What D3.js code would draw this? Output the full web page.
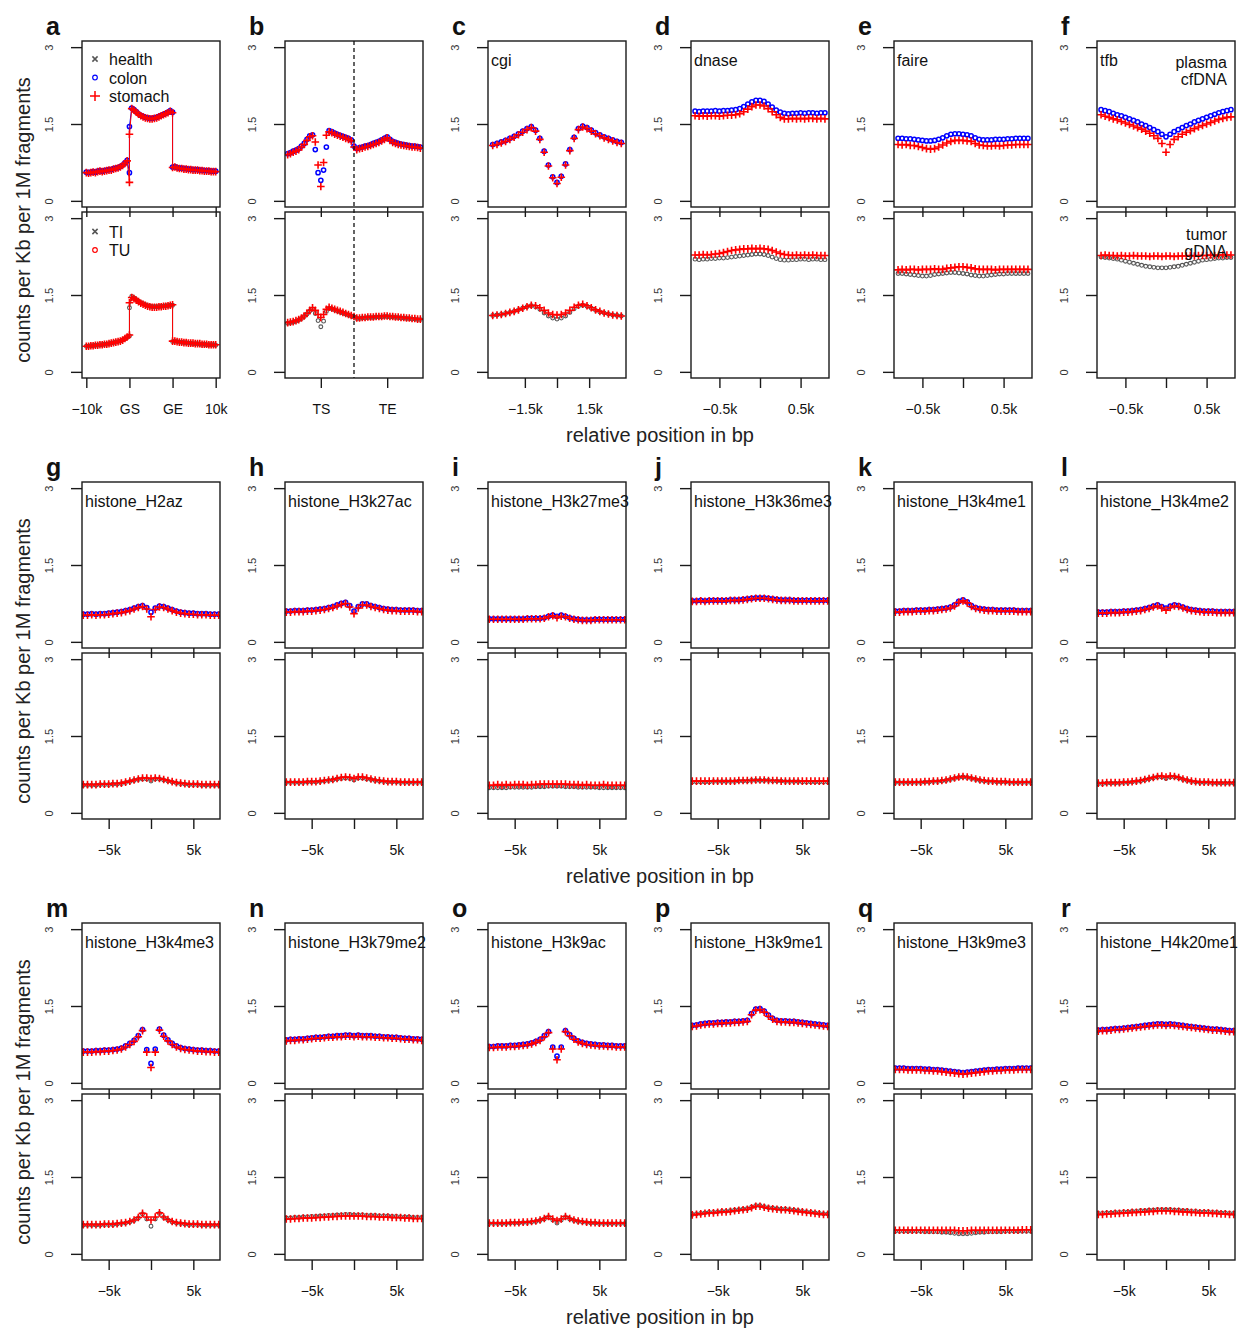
<!DOCTYPE html>
<html>
<head>
<meta charset="utf-8">
<script src="https://d3js.org/d3.v7.min.js"></script>
<style>
body { margin: 0; background: #fff; }
svg text { font-family: "Liberation Sans", Arial, Helvetica, sans-serif; fill: #111; }
</style>
</head>
<body>
<div id="chart"></div>
<script>
// Bin positions (x) for each kind of panel
var posA = d3.range(60).map(function (i) { return Math.floor(i / 20) + (i % 20) / 19; }); // -10k..GS, GS..GE, GE..10k
var posB = d3.range(49).map(function (i) { return i / 12; });                             // TS side | TE side
var posC = d3.range(-3000, 3001, 200);
var posD = d3.range(-800, 801, 50);
var posH = d3.range(-8000, 8001, 500);

// Tick values / labels
var tickA = [0, 1, 2, 3],           labA = ["\u221210k", "GS", "GE", "10k"];
var tickB = [1, 3],                 labB = ["TS", "TE"];
var tickC = [-1500, 0, 1500],       labC = ["\u22121.5k", "", "1.5k"];
var tickD = [-500, 0, 500],         labD = ["\u22120.5k", "", "0.5k"];
var tickH = [-5000, 0, 5000],       labH = ["\u22125k", "", "5k"];
var yTicks = [0, 1.5, 3];

var panelIds = ["a","b","c","d","e","f","g","h","i","j","k","l","m","n","o","p","q","r"];
var panelTitles = ["", "", "cgi", "dnase", "faire", "tfb", "histone_H2az", "histone_H3k27ac", "histone_H3k27me3",
  "histone_H3k36me3", "histone_H3k4me1", "histone_H3k4me2", "histone_H3k4me3", "histone_H3k79me2",
  "histone_H3k9ac", "histone_H3k9me1", "histone_H3k9me3", "histone_H4k20me1"];

// ---- values: top = plasma cfDNA (colon blue, stomach red), bottom = tumor gDNA (TI gray, TU red)
var aColon = [0.56,0.55,0.56,0.57,0.56,0.58,0.59,0.58,0.59,0.6,0.61,0.61,0.63,0.64,0.65,0.67,0.7,0.74,0.79,0.55,
  1.45,1.81,1.78,1.74,1.7,1.67,1.65,1.63,1.62,1.61,1.61,1.62,1.63,1.65,1.67,1.69,1.71,1.73,1.76,1.73,
  0.66,0.67,0.65,0.64,0.64,0.63,0.63,0.62,0.62,0.61,0.61,0.61,0.6,0.6,0.59,0.59,0.59,0.58,0.58,0.58];
var aStomach = [0.55,0.54,0.55,0.56,0.55,0.57,0.58,0.57,0.58,0.59,0.6,0.6,0.62,0.63,0.64,0.66,0.69,0.73,0.78,0.36,
  1.3,1.8,1.77,1.73,1.69,1.66,1.64,1.62,1.61,1.6,1.6,1.61,1.62,1.64,1.66,1.68,1.7,1.72,1.75,1.72,
  0.65,0.66,0.64,0.63,0.63,0.62,0.62,0.61,0.61,0.6,0.6,0.6,0.59,0.59,0.58,0.58,0.58,0.57,0.57,0.57];
var aTI = [0.5,0.5,0.51,0.51,0.52,0.52,0.53,0.53,0.54,0.54,0.55,0.56,0.57,0.58,0.59,0.6,0.62,0.64,0.67,0.7,
  1.25,1.47,1.44,1.41,1.38,1.35,1.33,1.31,1.29,1.28,1.27,1.27,1.27,1.27,1.28,1.28,1.29,1.29,1.3,1.3,
  0.59,0.6,0.59,0.58,0.58,0.57,0.57,0.56,0.56,0.55,0.55,0.55,0.54,0.54,0.54,0.53,0.53,0.53,0.53,0.52];
var aTU = [0.5,0.5,0.51,0.51,0.52,0.52,0.53,0.53,0.54,0.54,0.55,0.56,0.57,0.58,0.59,0.6,0.62,0.65,0.68,0.72,
  1.35,1.45,1.43,1.4,1.37,1.34,1.32,1.3,1.28,1.27,1.26,1.26,1.26,1.27,1.27,1.28,1.28,1.29,1.3,1.31,
  0.6,0.6,0.59,0.58,0.58,0.57,0.57,0.56,0.56,0.56,0.55,0.55,0.55,0.54,0.54,0.54,0.53,0.53,0.53,0.53];

var bColon = [0.92,0.94,0.97,0.99,1.02,1.07,1.12,1.2,1.27,1.29,1.0,0.55,0.4,0.6,1.05,1.37,1.35,1.32,1.3,1.28,
  1.26,1.24,1.22,1.19,1.07,1.02,1.04,1.05,1.07,1.08,1.1,1.12,1.14,1.16,1.19,1.22,1.25,1.2,1.16,1.14,
  1.12,1.11,1.1,1.09,1.08,1.07,1.07,1.06,1.05];
var bStomach = [0.9,0.92,0.95,0.97,1.0,1.05,1.1,1.18,1.25,1.27,1.15,0.7,0.28,0.75,1.28,1.35,1.33,1.3,1.28,1.26,
  1.24,1.22,1.2,1.17,1.05,1.0,1.02,1.03,1.05,1.06,1.08,1.1,1.12,1.14,1.17,1.2,1.23,1.18,1.14,1.12,
  1.1,1.09,1.08,1.07,1.06,1.05,1.05,1.04,1.03];
var bTI = [0.95,0.96,0.97,0.99,1.01,1.04,1.08,1.13,1.19,1.23,1.14,1.0,0.88,0.99,1.18,1.24,1.23,1.21,1.19,1.17,
  1.15,1.13,1.11,1.09,1.07,1.04,1.04,1.05,1.05,1.06,1.06,1.06,1.07,1.07,1.07,1.08,1.08,1.07,1.07,1.06,
  1.06,1.05,1.05,1.04,1.04,1.03,1.03,1.02,1.02];
var bTU = [0.96,0.97,0.98,1.0,1.02,1.05,1.09,1.14,1.2,1.25,1.2,1.12,1.06,1.12,1.22,1.26,1.24,1.22,1.2,1.18,
  1.16,1.14,1.12,1.1,1.08,1.05,1.05,1.06,1.06,1.07,1.07,1.07,1.08,1.08,1.08,1.09,1.09,1.08,1.08,1.07,
  1.07,1.06,1.06,1.05,1.05,1.04,1.04,1.03,1.03];

var cColon = [1.1,1.12,1.15,1.18,1.22,1.26,1.31,1.36,1.41,1.45,1.38,1.22,0.97,0.7,0.47,0.36,0.48,0.72,1.0,1.24,1.41,1.46,1.43,1.38,1.33,1.29,1.25,1.22,1.19,1.16,1.14];
var cStomach = [1.08,1.1,1.13,1.16,1.2,1.24,1.29,1.34,1.39,1.43,1.36,1.2,0.95,0.68,0.45,0.34,0.46,0.7,0.98,1.22,1.39,1.44,1.41,1.36,1.31,1.27,1.23,1.2,1.17,1.14,1.12];
var cTI = [1.1,1.11,1.12,1.14,1.16,1.18,1.21,1.24,1.27,1.29,1.27,1.22,1.15,1.09,1.05,1.03,1.05,1.09,1.16,1.23,1.28,1.3,1.28,1.24,1.2,1.17,1.15,1.13,1.11,1.1,1.09];
var cTU = [1.1,1.11,1.12,1.14,1.16,1.18,1.21,1.24,1.27,1.3,1.29,1.25,1.2,1.15,1.12,1.11,1.12,1.15,1.2,1.26,1.3,1.32,1.29,1.25,1.21,1.18,1.15,1.13,1.11,1.1,1.09];

var dColon = [1.75,1.74,1.75,1.75,1.75,1.76,1.75,1.76,1.76,1.77,1.78,1.8,1.84,1.89,1.93,1.96,1.96,1.94,1.89,1.83,1.77,1.73,1.71,1.7,1.71,1.71,1.72,1.71,1.72,1.72,1.71,1.72,1.72];
var dStomach = [1.66,1.65,1.66,1.65,1.66,1.66,1.65,1.66,1.67,1.67,1.68,1.7,1.74,1.79,1.84,1.87,1.87,1.85,1.8,1.74,1.68,1.63,1.6,1.6,1.61,1.6,1.61,1.6,1.61,1.61,1.6,1.61,1.6];
var dTI = [2.2,2.19,2.2,2.2,2.21,2.21,2.22,2.22,2.23,2.24,2.25,2.26,2.27,2.28,2.29,2.3,2.3,2.29,2.27,2.24,2.21,2.19,2.18,2.18,2.19,2.19,2.2,2.2,2.19,2.2,2.2,2.19,2.19];
var dTU = [2.28,2.28,2.29,2.28,2.29,2.3,2.31,2.33,2.35,2.37,2.38,2.39,2.4,2.4,2.41,2.4,2.41,2.4,2.39,2.37,2.34,2.31,2.29,2.28,2.27,2.28,2.27,2.28,2.27,2.28,2.27,2.27,2.27];

var eColon = [1.22,1.22,1.21,1.21,1.2,1.19,1.18,1.17,1.17,1.18,1.2,1.23,1.27,1.3,1.31,1.31,1.3,1.29,1.27,1.23,1.2,1.19,1.19,1.19,1.2,1.2,1.2,1.21,1.21,1.22,1.22,1.22,1.22];
var eStomach = [1.1,1.09,1.1,1.08,1.08,1.06,1.04,1.02,1.01,1.02,1.05,1.09,1.13,1.16,1.18,1.18,1.18,1.17,1.16,1.12,1.09,1.08,1.07,1.07,1.08,1.07,1.08,1.09,1.09,1.1,1.1,1.1,1.1];
var eTI = [1.92,1.92,1.91,1.9,1.89,1.88,1.87,1.87,1.88,1.9,1.91,1.92,1.93,1.94,1.94,1.93,1.92,1.91,1.89,1.88,1.87,1.87,1.88,1.89,1.9,1.91,1.91,1.92,1.92,1.92,1.92,1.92,1.92];
var eTU = [1.99,2.0,1.99,2.0,2.0,1.99,2.0,2.0,2.0,2.01,2.0,2.0,2.02,2.03,2.04,2.05,2.05,2.04,2.03,2.01,2.0,2.0,2.0,2.0,1.99,2.0,2.0,2.0,2.0,2.0,2.0,2.0,2.0];

var fColon = [1.78,1.76,1.74,1.71,1.68,1.66,1.63,1.6,1.57,1.54,1.5,1.47,1.43,1.39,1.35,1.3,1.25,1.3,1.35,1.39,1.43,1.47,1.5,1.54,1.57,1.6,1.63,1.66,1.69,1.72,1.74,1.76,1.78];
var fStomach = [1.68,1.65,1.63,1.6,1.58,1.55,1.52,1.49,1.46,1.43,1.4,1.36,1.32,1.27,1.22,1.12,0.95,1.1,1.2,1.25,1.3,1.34,1.37,1.41,1.44,1.47,1.5,1.53,1.56,1.59,1.61,1.63,1.64];
var fTI = [2.24,2.23,2.22,2.21,2.2,2.18,2.16,2.14,2.12,2.1,2.08,2.06,2.05,2.04,2.03,2.03,2.03,2.04,2.05,2.06,2.08,2.1,2.12,2.14,2.16,2.18,2.19,2.2,2.21,2.22,2.22,2.23,2.23];
var fTU = [2.27,2.28,2.27,2.27,2.26,2.27,2.26,2.26,2.27,2.26,2.26,2.26,2.25,2.26,2.26,2.25,2.26,2.26,2.25,2.26,2.26,2.26,2.27,2.26,2.27,2.27,2.27,2.28,2.27,2.28,2.28,2.28,2.28];

var gColon = [0.54,0.54,0.55,0.54,0.55,0.55,0.56,0.57,0.58,0.59,0.61,0.63,0.66,0.69,0.71,0.67,0.58,0.66,0.7,0.69,0.66,0.63,0.6,0.58,0.57,0.56,0.56,0.55,0.55,0.55,0.54,0.54,0.54];
var gStomach = [0.52,0.52,0.53,0.52,0.53,0.53,0.54,0.55,0.56,0.57,0.59,0.61,0.64,0.67,0.69,0.64,0.49,0.63,0.68,0.67,0.64,0.61,0.58,0.56,0.55,0.54,0.54,0.53,0.53,0.53,0.52,0.52,0.52];
var gTI = [0.54,0.54,0.54,0.54,0.55,0.55,0.55,0.56,0.56,0.57,0.59,0.61,0.63,0.65,0.66,0.66,0.62,0.66,0.66,0.64,0.62,0.6,0.58,0.57,0.56,0.55,0.55,0.55,0.54,0.54,0.54,0.54,0.54];
var gTU = [0.55,0.55,0.55,0.55,0.56,0.56,0.56,0.57,0.57,0.58,0.6,0.62,0.64,0.66,0.68,0.68,0.67,0.68,0.67,0.65,0.63,0.61,0.59,0.58,0.57,0.56,0.56,0.56,0.55,0.55,0.55,0.55,0.55];

var hColon = [0.6,0.6,0.61,0.61,0.61,0.62,0.62,0.63,0.64,0.65,0.67,0.69,0.72,0.75,0.77,0.71,0.6,0.69,0.74,0.74,0.71,0.69,0.67,0.65,0.64,0.63,0.63,0.62,0.62,0.62,0.62,0.61,0.61];
var hStomach = [0.58,0.58,0.59,0.59,0.59,0.6,0.6,0.61,0.62,0.63,0.65,0.67,0.7,0.73,0.75,0.68,0.55,0.66,0.72,0.72,0.69,0.67,0.65,0.63,0.62,0.61,0.61,0.6,0.6,0.6,0.6,0.59,0.59];
var hTI = [0.59,0.59,0.59,0.59,0.59,0.6,0.6,0.6,0.61,0.62,0.63,0.64,0.66,0.67,0.68,0.67,0.64,0.68,0.68,0.66,0.65,0.63,0.62,0.61,0.6,0.6,0.6,0.59,0.59,0.59,0.59,0.59,0.59];
var hTU = [0.6,0.6,0.6,0.6,0.6,0.61,0.61,0.61,0.62,0.63,0.64,0.65,0.67,0.69,0.7,0.69,0.67,0.7,0.7,0.68,0.66,0.64,0.63,0.62,0.61,0.61,0.61,0.6,0.6,0.6,0.6,0.6,0.6];

var iColon = [0.45,0.45,0.45,0.45,0.45,0.45,0.45,0.45,0.45,0.46,0.46,0.46,0.46,0.47,0.5,0.52,0.5,0.52,0.5,0.47,0.45,0.44,0.43,0.43,0.43,0.44,0.44,0.44,0.44,0.44,0.44,0.44,0.44];
var iStomach = [0.44,0.44,0.44,0.44,0.44,0.44,0.44,0.44,0.44,0.45,0.45,0.45,0.45,0.46,0.49,0.51,0.47,0.5,0.49,0.46,0.44,0.43,0.42,0.42,0.42,0.43,0.43,0.43,0.43,0.43,0.43,0.43,0.43];
var iTI = [0.49,0.49,0.49,0.49,0.49,0.5,0.5,0.5,0.5,0.5,0.5,0.51,0.51,0.51,0.52,0.52,0.52,0.52,0.51,0.51,0.51,0.5,0.5,0.5,0.5,0.5,0.49,0.49,0.49,0.49,0.49,0.49,0.49];
var iTU = [0.54,0.54,0.55,0.54,0.55,0.54,0.55,0.55,0.55,0.54,0.55,0.55,0.56,0.56,0.56,0.56,0.56,0.56,0.56,0.55,0.55,0.55,0.54,0.55,0.54,0.54,0.54,0.55,0.54,0.54,0.54,0.54,0.54];

var jColon = [0.8,0.8,0.81,0.8,0.81,0.81,0.81,0.81,0.81,0.82,0.82,0.82,0.83,0.84,0.85,0.86,0.86,0.86,0.85,0.84,0.83,0.82,0.82,0.82,0.81,0.81,0.81,0.81,0.81,0.81,0.81,0.81,0.81];
var jStomach = [0.79,0.79,0.8,0.79,0.8,0.8,0.8,0.8,0.8,0.81,0.81,0.81,0.82,0.83,0.84,0.85,0.85,0.85,0.84,0.83,0.82,0.81,0.81,0.81,0.8,0.8,0.8,0.8,0.8,0.8,0.8,0.8,0.8];
var jTI = [0.6,0.6,0.6,0.6,0.6,0.61,0.61,0.61,0.61,0.61,0.61,0.62,0.62,0.62,0.63,0.63,0.63,0.63,0.63,0.62,0.62,0.62,0.61,0.61,0.61,0.61,0.6,0.6,0.6,0.6,0.6,0.6,0.6];
var jTU = [0.62,0.62,0.62,0.62,0.62,0.62,0.62,0.62,0.62,0.62,0.62,0.63,0.63,0.63,0.63,0.64,0.64,0.64,0.63,0.63,0.63,0.62,0.62,0.62,0.62,0.62,0.62,0.62,0.62,0.62,0.62,0.62,0.62];

var kColon = [0.6,0.6,0.61,0.61,0.61,0.62,0.62,0.62,0.63,0.63,0.64,0.65,0.66,0.68,0.72,0.79,0.82,0.78,0.71,0.67,0.65,0.64,0.63,0.63,0.62,0.62,0.62,0.62,0.62,0.61,0.61,0.61,0.61];
var kStomach = [0.58,0.58,0.59,0.59,0.59,0.6,0.6,0.6,0.61,0.61,0.62,0.63,0.64,0.66,0.7,0.77,0.8,0.76,0.69,0.65,0.63,0.62,0.61,0.61,0.6,0.6,0.6,0.6,0.6,0.59,0.59,0.59,0.59];
var kTI = [0.59,0.59,0.59,0.59,0.59,0.59,0.59,0.6,0.6,0.61,0.61,0.62,0.63,0.65,0.67,0.69,0.7,0.69,0.67,0.65,0.63,0.62,0.61,0.61,0.6,0.6,0.6,0.59,0.59,0.59,0.59,0.59,0.59];
var kTU = [0.6,0.6,0.6,0.6,0.6,0.6,0.6,0.61,0.61,0.62,0.62,0.63,0.64,0.66,0.68,0.7,0.71,0.7,0.68,0.66,0.64,0.63,0.62,0.62,0.61,0.61,0.61,0.6,0.6,0.6,0.6,0.6,0.6];

var lColon = [0.58,0.58,0.58,0.59,0.59,0.59,0.6,0.6,0.61,0.62,0.63,0.65,0.67,0.7,0.72,0.69,0.66,0.7,0.72,0.71,0.68,0.65,0.63,0.62,0.61,0.6,0.6,0.6,0.59,0.59,0.59,0.59,0.59];
var lStomach = [0.56,0.56,0.56,0.57,0.57,0.57,0.58,0.58,0.59,0.6,0.61,0.63,0.65,0.68,0.7,0.66,0.62,0.67,0.7,0.69,0.66,0.63,0.61,0.6,0.59,0.58,0.58,0.58,0.57,0.57,0.57,0.57,0.57];
var lTI = [0.57,0.57,0.58,0.58,0.58,0.58,0.59,0.59,0.6,0.61,0.62,0.64,0.66,0.68,0.7,0.7,0.67,0.7,0.7,0.68,0.65,0.63,0.61,0.6,0.59,0.59,0.59,0.58,0.58,0.58,0.58,0.58,0.58];
var lTU = [0.58,0.58,0.59,0.59,0.59,0.59,0.6,0.6,0.61,0.62,0.63,0.65,0.67,0.69,0.71,0.72,0.7,0.72,0.71,0.69,0.66,0.64,0.62,0.61,0.6,0.6,0.6,0.59,0.59,0.59,0.59,0.59,0.59];

var mColon = [0.62,0.62,0.62,0.63,0.63,0.64,0.64,0.65,0.66,0.68,0.72,0.77,0.83,0.92,1.04,0.65,0.38,0.66,1.05,0.93,0.84,0.77,0.72,0.69,0.67,0.66,0.65,0.64,0.64,0.63,0.63,0.62,0.62];
var mStomach = [0.6,0.6,0.6,0.61,0.61,0.62,0.62,0.63,0.64,0.66,0.7,0.75,0.81,0.9,1.02,0.6,0.3,0.6,1.03,0.91,0.82,0.75,0.7,0.67,0.65,0.64,0.63,0.62,0.62,0.61,0.61,0.6,0.6];
var mTI = [0.56,0.56,0.56,0.56,0.56,0.57,0.57,0.57,0.58,0.59,0.6,0.62,0.65,0.7,0.78,0.68,0.54,0.68,0.79,0.71,0.66,0.62,0.6,0.59,0.58,0.57,0.57,0.57,0.56,0.56,0.56,0.56,0.56];
var mTU = [0.57,0.57,0.57,0.57,0.57,0.58,0.58,0.58,0.59,0.6,0.61,0.63,0.66,0.71,0.79,0.72,0.66,0.72,0.8,0.72,0.67,0.63,0.61,0.6,0.59,0.58,0.58,0.58,0.57,0.57,0.57,0.57,0.57];

var nColon = [0.84,0.85,0.85,0.86,0.86,0.87,0.88,0.89,0.89,0.9,0.91,0.91,0.92,0.92,0.93,0.93,0.92,0.93,0.92,0.92,0.92,0.91,0.91,0.9,0.9,0.89,0.89,0.88,0.87,0.87,0.86,0.86,0.85];
var nStomach = [0.82,0.83,0.83,0.84,0.84,0.85,0.86,0.87,0.87,0.88,0.89,0.89,0.9,0.9,0.91,0.91,0.9,0.91,0.9,0.9,0.9,0.89,0.89,0.88,0.88,0.87,0.87,0.86,0.85,0.85,0.84,0.84,0.83];
var nTI = [0.7,0.7,0.71,0.71,0.72,0.72,0.73,0.73,0.74,0.74,0.75,0.75,0.76,0.76,0.77,0.77,0.76,0.76,0.76,0.75,0.75,0.75,0.74,0.74,0.74,0.73,0.73,0.72,0.72,0.72,0.71,0.71,0.71];
var nTU = [0.68,0.68,0.69,0.69,0.7,0.7,0.7,0.71,0.71,0.72,0.72,0.73,0.73,0.74,0.74,0.74,0.74,0.74,0.74,0.73,0.73,0.73,0.72,0.72,0.72,0.71,0.71,0.71,0.7,0.7,0.69,0.69,0.69];

var oColon = [0.71,0.71,0.72,0.72,0.72,0.73,0.73,0.74,0.75,0.76,0.78,0.81,0.85,0.92,1.0,0.7,0.52,0.7,1.02,0.94,0.87,0.82,0.79,0.77,0.76,0.75,0.74,0.74,0.73,0.73,0.72,0.72,0.72];
var oStomach = [0.69,0.69,0.7,0.7,0.7,0.71,0.71,0.72,0.73,0.74,0.76,0.79,0.83,0.9,0.98,0.66,0.45,0.66,1.0,0.92,0.85,0.8,0.77,0.75,0.74,0.73,0.72,0.72,0.71,0.71,0.7,0.7,0.7];
var oTI = [0.59,0.59,0.59,0.59,0.59,0.6,0.6,0.6,0.61,0.61,0.62,0.63,0.65,0.68,0.72,0.66,0.6,0.66,0.72,0.68,0.65,0.63,0.62,0.61,0.6,0.6,0.59,0.59,0.59,0.59,0.59,0.59,0.59];
var oTU = [0.6,0.6,0.6,0.6,0.6,0.61,0.61,0.61,0.62,0.62,0.63,0.64,0.66,0.69,0.73,0.68,0.65,0.68,0.73,0.69,0.66,0.64,0.63,0.62,0.61,0.61,0.6,0.6,0.6,0.6,0.6,0.6,0.6];

var pColon = [1.12,1.13,1.15,1.16,1.17,1.17,1.18,1.18,1.19,1.19,1.2,1.2,1.21,1.22,1.35,1.44,1.45,1.4,1.32,1.26,1.22,1.21,1.21,1.2,1.2,1.19,1.18,1.17,1.16,1.15,1.14,1.13,1.12];
var pStomach = [1.1,1.11,1.13,1.14,1.15,1.15,1.16,1.16,1.17,1.17,1.18,1.18,1.19,1.2,1.33,1.42,1.43,1.38,1.3,1.24,1.2,1.19,1.19,1.18,1.18,1.17,1.16,1.15,1.14,1.13,1.12,1.11,1.1];
var pTI = [0.77,0.78,0.79,0.8,0.81,0.81,0.82,0.83,0.83,0.84,0.85,0.86,0.87,0.88,0.91,0.94,0.94,0.92,0.9,0.89,0.88,0.87,0.87,0.86,0.85,0.84,0.83,0.82,0.81,0.8,0.79,0.78,0.78];
var pTU = [0.76,0.77,0.78,0.79,0.8,0.8,0.81,0.82,0.82,0.83,0.84,0.85,0.86,0.87,0.9,0.93,0.93,0.91,0.89,0.88,0.87,0.86,0.86,0.85,0.84,0.83,0.82,0.81,0.8,0.79,0.78,0.77,0.77];

var qColon = [0.29,0.29,0.29,0.28,0.28,0.28,0.28,0.27,0.27,0.26,0.26,0.25,0.24,0.23,0.22,0.21,0.2,0.21,0.22,0.23,0.24,0.25,0.26,0.26,0.27,0.27,0.28,0.28,0.28,0.29,0.29,0.29,0.29];
var qStomach = [0.26,0.26,0.26,0.25,0.25,0.25,0.25,0.24,0.24,0.23,0.23,0.22,0.21,0.2,0.19,0.18,0.17,0.18,0.19,0.2,0.21,0.22,0.23,0.23,0.24,0.24,0.25,0.25,0.25,0.26,0.26,0.26,0.26];
var qTI = [0.44,0.44,0.44,0.44,0.44,0.44,0.44,0.43,0.43,0.43,0.43,0.42,0.42,0.41,0.4,0.39,0.39,0.39,0.4,0.41,0.42,0.42,0.43,0.43,0.43,0.43,0.44,0.44,0.44,0.44,0.44,0.44,0.44];
var qTU = [0.46,0.46,0.46,0.46,0.46,0.46,0.46,0.46,0.46,0.46,0.46,0.46,0.46,0.46,0.46,0.45,0.45,0.45,0.46,0.46,0.46,0.46,0.46,0.46,0.46,0.46,0.46,0.46,0.46,0.46,0.47,0.47,0.47];

var rColon = [1.03,1.04,1.04,1.05,1.06,1.06,1.07,1.08,1.09,1.1,1.11,1.12,1.13,1.14,1.15,1.15,1.14,1.15,1.14,1.13,1.12,1.11,1.1,1.09,1.08,1.07,1.06,1.05,1.05,1.04,1.03,1.02,1.02];
var rStomach = [1.01,1.02,1.02,1.03,1.04,1.04,1.05,1.06,1.07,1.08,1.09,1.1,1.11,1.12,1.13,1.13,1.12,1.13,1.12,1.11,1.1,1.09,1.08,1.07,1.06,1.05,1.04,1.03,1.03,1.02,1.01,1.0,1.0];
var rTI = [0.79,0.79,0.8,0.8,0.81,0.81,0.82,0.82,0.83,0.83,0.84,0.84,0.85,0.85,0.86,0.86,0.86,0.86,0.85,0.85,0.84,0.84,0.83,0.83,0.82,0.82,0.82,0.81,0.81,0.8,0.8,0.79,0.79];
var rTU = [0.77,0.77,0.78,0.78,0.79,0.79,0.8,0.8,0.81,0.81,0.82,0.82,0.83,0.83,0.84,0.84,0.84,0.84,0.83,0.83,0.82,0.82,0.81,0.81,0.8,0.8,0.8,0.79,0.79,0.78,0.78,0.77,0.77];

// Panel table built from the arrays above
var histo = { pos: posH, dom: [-8150, 8150], ticks: tickH, labels: labH };
var panels = [
  { pos: posA, dom: [-0.1, 3.1], ticks: tickA, labels: labA, top: [aColon, aStomach], bot: [aTI, aTU], lines: true },
  { pos: posB, dom: [-0.08, 4.08], ticks: tickB, labels: labB, top: [bColon, bStomach], bot: [bTI, bTU], dashed: 2 },
  { pos: posC, dom: [-3220, 3220], ticks: tickC, labels: labC, top: [cColon, cStomach], bot: [cTI, cTU] },
  { pos: posD, dom: [-850, 850], ticks: tickD, labels: labD, top: [dColon, dStomach], bot: [dTI, dTU] },
  { pos: posD, dom: [-850, 850], ticks: tickD, labels: labD, top: [eColon, eStomach], bot: [eTI, eTU] },
  { pos: posD, dom: [-850, 850], ticks: tickD, labels: labD, top: [fColon, fStomach], bot: [fTI, fTU] }
];
[[gColon, gStomach, gTI, gTU], [hColon, hStomach, hTI, hTU], [iColon, iStomach, iTI, iTU],
 [jColon, jStomach, jTI, jTU], [kColon, kStomach, kTI, kTU], [lColon, lStomach, lTI, lTU],
 [mColon, mStomach, mTI, mTU], [nColon, nStomach, nTI, nTU], [oColon, oStomach, oTI, oTU],
 [pColon, pStomach, pTI, pTU], [qColon, qStomach, qTI, qTU], [rColon, rStomach, rTI, rTU]].forEach(function (s) {
  panels.push({ pos: histo.pos, dom: histo.dom, ticks: histo.ticks, labels: histo.labels, top: [s[0], s[1]], bot: [s[2], s[3]] });
});

// General settings
var width = 1241, height = 1330;
var svg = d3.select("#chart").append("svg").attr("width", width).attr("height", height);

var colX = [82, 285, 488, 691, 894, 1097];
var rowY = [41, 482, 923];
var boxW = 138, boxH = 166, subGap = 5;
var RED = "#ff0000", BLUE = "#0000ff", GRAY = "#555555";
var plusPath = "M-3.8,0H3.8M0,-3.8V3.8";
var timesPath = "M-2.6,-2.6L2.6,2.6M-2.6,2.6L2.6,-2.6";

function drawPoints(g, x, y, pos, vals, kind, color, lines) {
  var pts = pos.map(function (p, i) { return [p, vals[i]]; }).filter(function (d) { return d[1] != null; });
  if (lines) {
    g.append("path").datum(pts)
      .attr("d", d3.line().x(function (d) { return x(d[0]); }).y(function (d) { return y(d[1]); }))
      .attr("fill", "none").attr("stroke", color).attr("stroke-width", 1);
  }
  if (kind === "plus") {
    g.selectAll(null).data(pts).enter().append("path")
      .attr("transform", function (d) { return "translate(" + x(d[0]) + "," + y(d[1]) + ")"; })
      .attr("d", plusPath).attr("stroke", color).attr("stroke-width", 1.6).attr("fill", "none");
  } else {
    g.selectAll(null).data(pts).enter().append("circle")
      .attr("cx", function (d) { return x(d[0]); })
      .attr("cy", function (d) { return y(d[1]); })
      .attr("r", kind === "circle" ? 2.1 : 1.9)
      .attr("stroke", color).attr("stroke-width", kind === "circle" ? 1.5 : 1.1).attr("fill", "none");
  }
}

panels.forEach(function (p, idx) {
  var x0 = colX[idx % 6], r0 = rowY[Math.floor(idx / 6)];
  var x = d3.scaleLinear().domain(p.dom).range([x0, x0 + boxW]);
  var pg = svg.append("g").attr("class", "panel");

  [0, 1].forEach(function (k) {
    var top = r0 + k * (boxH + subGap);
    var y = d3.scaleLinear().domain([-0.12, 3.12]).range([top + boxH, top]);
    var clipId = "clip" + idx + "_" + k;
    pg.append("clipPath").attr("id", clipId).append("rect")
      .attr("x", x0).attr("y", top).attr("width", boxW).attr("height", boxH);

    var dg = pg.append("g").attr("clip-path", "url(#" + clipId + ")");
    if (k === 0) {
      drawPoints(dg, x, y, p.pos, p.top[0], "circle", BLUE, p.lines);
      drawPoints(dg, x, y, p.pos, p.top[1], "plus", RED, p.lines);
    } else {
      drawPoints(dg, x, y, p.pos, p.bot[0], "small", GRAY, p.lines);
      drawPoints(dg, x, y, p.pos, p.bot[1], "plus", RED, p.lines);
    }

    // box
    pg.append("rect").attr("x", x0).attr("y", top).attr("width", boxW).attr("height", boxH)
      .attr("fill", "none").attr("stroke", "#1a1a1a").attr("stroke-width", 1.4);

    // y axis
    var ya = pg.append("g").attr("transform", "translate(" + x0 + ",0)")
      .call(d3.axisLeft(y).tickValues(yTicks).tickSize(11).tickFormat(d3.format("")));
    ya.select(".domain").remove();
    ya.selectAll(".tick line").attr("stroke", "#1a1a1a").attr("stroke-width", 1.4);
    ya.selectAll(".tick text")
      .attr("x", null).attr("dy", null)
      .attr("text-anchor", "middle")
      .attr("transform", "translate(-29,0) rotate(-90)")
      .style("font-size", "11px").style("fill", "#333");

    // x axis (labels only under the lower box)
    var xa = pg.append("g").attr("transform", "translate(0," + (top + boxH) + ")")
      .call(d3.axisBottom(x).tickValues(p.ticks).tickSize(10)
        .tickFormat(function (d, i) { return k === 1 ? p.labels[i] : ""; }));
    xa.select(".domain").remove();
    xa.selectAll(".tick line").attr("stroke", "#1a1a1a").attr("stroke-width", 1.4);
    xa.selectAll(".tick text").attr("y", 36).attr("dy", null)
      .style("font-size", "14px");
  });

  if (p.dashed != null) {
    pg.append("line").attr("x1", x(p.dashed)).attr("x2", x(p.dashed))
      .attr("y1", r0).attr("y2", r0 + 2 * boxH + subGap)
      .attr("stroke", "#111").attr("stroke-width", 1.3).attr("stroke-dasharray", "4,3");
  }

  // panel letter
  pg.append("text").attr("x", x0 - 36).attr("y", r0 - 6)
    .style("font-size", "25px").style("font-weight", "bold").text(panelIds[idx]);

  if (panelTitles[idx]) {
    pg.append("text").attr("x", x0 + 3).attr("y", r0 + 25)
      .style("font-size", "16px").text(panelTitles[idx]);
  }
});

// legends in panel a
var lx = colX[0], ly = rowY[0];
var legTop = [["health", "times", GRAY], ["colon", "circle", BLUE], ["stomach", "plus", RED]];
var legBot = [["TI", "times", GRAY], ["TU", "circle", RED]];
function legend(items, baseY) {
  items.forEach(function (it, i) {
    var yy = baseY + i * 18.5;
    var sym = svg.append("g").attr("transform", "translate(" + (lx + 13) + "," + (yy - 6) + ")");
    if (it[1] === "circle") sym.append("circle").attr("r", 2.3).attr("fill", "none").attr("stroke", it[2]).attr("stroke-width", 1.2);
    else sym.append("path").attr("d", it[1] === "plus" ? "M-5,0H5M0,-5V5" : timesPath)
      .attr("stroke", it[2]).attr("stroke-width", 1.5).attr("fill", "none");
    svg.append("text").attr("x", lx + 27).attr("y", yy).style("font-size", "16px").text(it[0]);
  });
}
legend(legTop, ly + 24);
legend(legBot, ly + 196.5);

// sample notes in panel f
var fx = colX[5] + boxW - 8;
[["plasma", 27], ["cfDNA", 44], ["tumor", 199], ["gDNA", 216]].forEach(function (t) {
  svg.append("text").attr("x", fx).attr("y", rowY[0] + t[1]).attr("text-anchor", "end")
    .style("font-size", "16px").text(t[0]);
});

// axis titles for each row
rowY.forEach(function (r0) {
  svg.append("text").attr("transform", "translate(30," + (r0 + 179) + ") rotate(-90)")
    .attr("text-anchor", "middle").style("font-size", "20px").style("fill", "#222")
    .text("counts per Kb per 1M fragments");
  svg.append("text").attr("x", 660).attr("y", r0 + 401)
    .attr("text-anchor", "middle").style("font-size", "20px").style("fill", "#222")
    .text("relative position in bp");
});
</script>
</body>
</html>
